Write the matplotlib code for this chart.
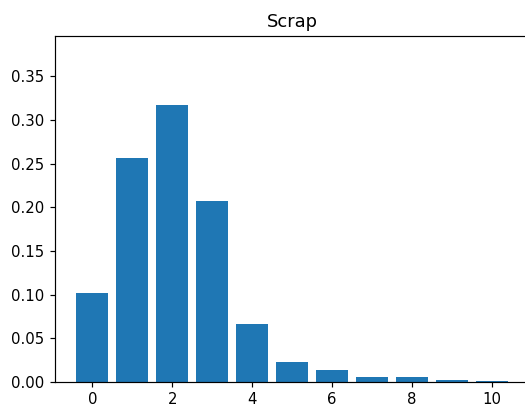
import matplotlib
matplotlib.use('Agg')
import matplotlib.pyplot as plt

counts = [0, 1, 2, 3, 4, 5, 6, 7, 8, 9, 10]
probs = [0.1023, 0.2560, 0.3170, 0.2073, 0.0670, 0.0233, 0.0137, 0.0061, 0.0061, 0.0023, 0.0011]

fig = plt.figure(figsize=(525 / 107, 409 / 107), dpi=107)
# axes run past the right edge of the figure, as in the original crop
ax = fig.add_axes([0.1044, 0.066, 0.9036, 0.8467])
ax.bar(counts, probs)
ax.set_ylim(0, 0.3966)
ax.set_title('Scrap')
fig.savefig('out.png', dpi=107)
plt.close(fig)
